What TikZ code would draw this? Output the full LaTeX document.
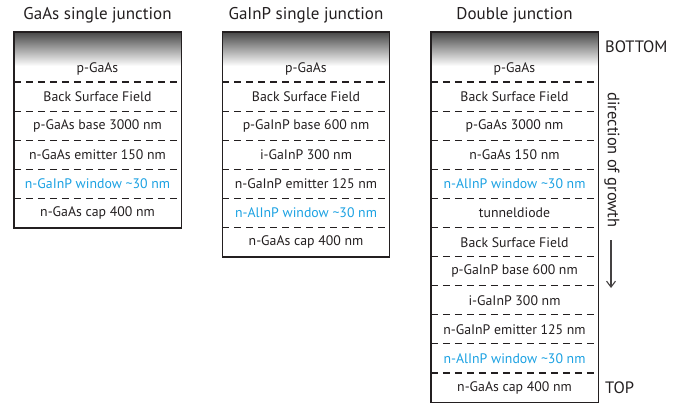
\documentclass[tikz,border=0pt]{standalone}
\usepackage{fontspec}
\setmainfont{PT Sans}
\usetikzlibrary{arrows.meta}
\definecolor{ink}{HTML}{231F20}
\definecolor{window}{HTML}{1BA1E2}

\begin{document}
\begin{tikzpicture}[x=1pt,y=-1pt,
	layer/.style={minimum width=167pt,minimum height=29.1pt,inner sep=0pt,anchor=north,
		font=\fontsize{13.8}{16}\selectfont,text=ink},
	win/.style={layer,text=window},
	sub/.style={layer,minimum height=25pt,anchor=south},
	sep/.style={draw=ink,line width=1.1pt,dash pattern=on 7pt off 5pt},
	outline/.style={draw=ink,line width=1.2pt},
	title/.style={font=\fontsize{17}{20}\selectfont,text=ink},
	side/.style={font=\fontsize{16.5}{19}\selectfont,text=ink,inner sep=0pt},
	substrate/.style={top color=black!72,bottom color=white},
	]
	\useasboundingbox (0,0) rectangle (689,405);

	% substrate shading
	\coordinate (Atop) at (14,32);
	\coordinate (Btop) at (222.5,32);
	\coordinate (Ctop) at (431,32);
	\shade [substrate] (Atop) rectangle (181,66);
	\shade [substrate] (Btop) rectangle (389.5,66);
	\shade [substrate] (Ctop) rectangle (598,66);

	% titles
	\node [title] (tA) at (97.5,15) {GaAs single junction};
	\node [title] (tB) at (306,15) {GaInP single junction};
	\node [title] (tC) at (514.5,15) {Double junction};

	% GaAs single junction
	\node [sub] (Asub) at (97.5,82) {p-GaAs};
	\node [layer] (A1) at (97.5,82) {Back Surface Field};
	\node [layer] (A2) at (97.5,111.1) {p-GaAs base 3000 nm};
	\node [layer] (A3) at (97.5,140.2) {n-GaAs emitter 150 nm};
	\node [win] (A4) at (97.5,169.3) {n-GaInP window \textasciitilde30 nm};
	\node [layer] (A5) at (97.5,198.4) {n-GaAs cap 400 nm};

	% GaInP single junction
	\node [sub] (Bsub) at (306,82) {p-GaAs};
	\node [layer] (B1) at (306,82) {Back Surface Field};
	\node [layer] (B2) at (306,111.1) {p-GaInP base 600 nm};
	\node [layer] (B3) at (306,140.2) {i-GaInP 300 nm};
	\node [layer] (B4) at (306,169.3) {n-GaInP emitter 125 nm};
	\node [win] (B5) at (306,198.4) {n-AlInP window \textasciitilde30 nm};
	\node [layer] (B6) at (306,227.5) {n-GaAs cap 400 nm};

	% double junction
	\node [sub] (Csub) at (514.5,82) {p-GaAs};
	\node [layer] (C1) at (514.5,82) {Back Surface Field};
	\node [layer] (C2) at (514.5,111.1) {p-GaAs 3000 nm};
	\node [layer] (C3) at (514.5,140.2) {n-GaAs 150 nm};
	\node [win] (C4) at (514.5,169.3) {n-AlInP window \textasciitilde30 nm};
	\node [layer] (C5) at (514.5,198.4) {tunneldiode};
	\node [layer] (C6) at (514.5,227.5) {Back Surface Field};
	\node [layer] (C7) at (514.5,256.6) {p-GaInP base 600 nm};
	\node [layer] (C8) at (514.5,285.7) {i-GaInP 300 nm};
	\node [layer] (C9) at (514.5,314.8) {n-GaInP emitter 125 nm};
	\node [win] (C10) at (514.5,343.9) {n-AlInP window \textasciitilde30 nm};
	\node [layer] (C11) at (514.5,373) {n-GaAs cap 400 nm};

	% layer boundaries
	\draw [sep] (A1.north west) -- (A1.north east);
	\draw [sep] (A2.north west) -- (A2.north east);
	\draw [sep] (A3.north west) -- (A3.north east);
	\draw [sep] (A4.north west) -- (A4.north east);
	\draw [sep] (A5.north west) -- (A5.north east);

	\draw [sep] (B1.north west) -- (B1.north east);
	\draw [sep] (B2.north west) -- (B2.north east);
	\draw [sep] (B3.north west) -- (B3.north east);
	\draw [sep] (B4.north west) -- (B4.north east);
	\draw [sep] (B5.north west) -- (B5.north east);
	\draw [sep] (B6.north west) -- (B6.north east);

	\draw [sep] (C1.north west) -- (C1.north east);
	\draw [sep] (C2.north west) -- (C2.north east);
	\draw [sep] (C3.north west) -- (C3.north east);
	\draw [sep] (C4.north west) -- (C4.north east);
	\draw [sep] (C5.north west) -- (C5.north east);
	\draw [sep] (C6.north west) -- (C6.north east);
	\draw [sep] (C7.north west) -- (C7.north east);
	\draw [sep] (C8.north west) -- (C8.north east);
	\draw [sep] (C9.north west) -- (C9.north east);
	\draw [sep] (C10.north west) -- (C10.north east);
	\draw [sep] (C11.north west) -- (C11.north east);

	% outlines
	\draw [outline] (Atop) rectangle (A5.south east);
	\draw [outline] (Btop) rectangle (B6.south east);
	\draw [outline] (Ctop) rectangle (C11.south east);

	% growth direction
	\node [side,anchor=west] (bottom) at (605,47) {BOTTOM};
	\node [side,anchor=west] (top) at (605,388) {TOP};
	\node [side,rotate=-90] (dir) at (612,160) {direction of growth};
	\coordinate (arrS) at (611,240);
	\coordinate (arrE) at (611,288);
	\draw [ink!85,line width=1.1pt,-{Straight Barb[length=6pt,width=9pt]}] (arrS) -- (arrE);
\end{tikzpicture}
\end{document}
